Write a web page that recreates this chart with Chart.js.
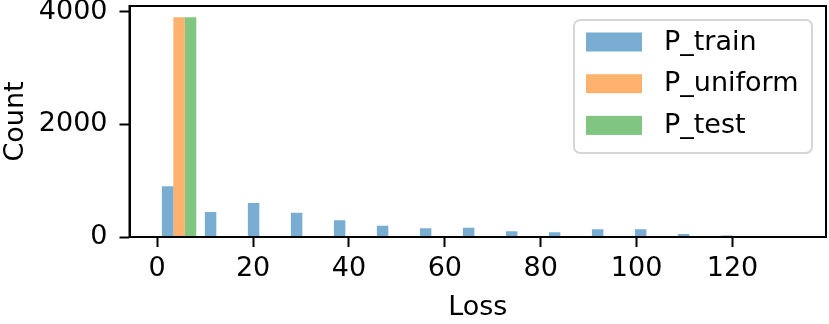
<!DOCTYPE html>
<html>
<head>
<meta charset="utf-8">
<script src="https://cdn.jsdelivr.net/npm/chart.js@4.4.0/dist/chart.umd.min.js"></script>
<style>
  html, body { margin: 0; padding: 0; background: #fff; }
  #wrap { width: 829px; height: 324px; }
</style>
</head>
<body>
<div id="wrap"><canvas id="hist"></canvas></div>
<script>
// histogram bin centers (Loss)
const binCenters = [4.56, 13.53, 22.50, 31.47, 40.44, 49.41, 58.38, 67.35, 76.32, 85.29, 94.26, 103.23, 112.20, 121.17, 130.14];

// counts per bin
const trainCounts = [904, 443, 603, 431, 296, 201, 154, 166, 101, 83, 137, 137, 53, 25, 5];
const uniformCounts = [3905, 0, 0, 0, 0, 0, 0, 0, 0, 0, 0, 0, 0, 0, 0];
const testCounts = [3905, 0, 0, 0, 0, 0, 0, 0, 0, 0, 0, 0, 0, 0, 0];

const seriesNames = ['P_train', 'P_uniform', 'P_test'];
const xTicks = [0, 20, 40, 60, 80, 100, 120];
const yTicks = [0, 2000, 4000];

const FONT = "'DejaVu Sans', sans-serif";

function toPoints(counts) {
  return counts.map((c, i) => ({ x: binCenters[i], y: c }));
}

// draws the full box round the axes and the framed legend, like matplotlib
const frameLegend = {
  id: 'frameLegend',
  afterDraw(chart) {
    const { ctx, chartArea: a } = chart;
    ctx.save();
    ctx.strokeStyle = '#000';
    ctx.lineWidth = 2;
    ctx.strokeRect(a.left, a.top, a.right - a.left, a.bottom - a.top);

    const w = 238, h = 133;
    const x = a.right - 14 - w, y = a.top + 14;
    ctx.beginPath();
    ctx.roundRect(x, y, w, h, 6);
    ctx.fillStyle = 'rgba(255,255,255,0.8)';
    ctx.fill();
    ctx.strokeStyle = '#d6d6d6';
    ctx.lineWidth = 2;
    ctx.stroke();

    ctx.font = '27px ' + FONT;
    ctx.textBaseline = 'middle';
    chart.data.datasets.forEach((ds, i) => {
      const rowY = y + 12.5 + i * 41.7;
      ctx.fillStyle = ds.backgroundColor;
      ctx.fillRect(x + 12, rowY, 56, 19);
      ctx.fillStyle = '#000';
      ctx.fillText(ds.label, x + 90, rowY + 10);
    });
    ctx.restore();
  }
};

new Chart('hist', {
  type: 'bar',
  data: {
    datasets: [{
      label: seriesNames[0],
      data: toPoints(trainCounts),
      backgroundColor: 'rgba(31, 119, 180, 0.6)'
    }, {
      label: seriesNames[1],
      data: toPoints(uniformCounts),
      backgroundColor: 'rgba(255, 127, 14, 0.6)'
    }, {
      label: seriesNames[2],
      data: toPoints(testCounts),
      backgroundColor: 'rgba(44, 160, 44, 0.6)'
    }]
  },
  options: {
    responsive: true,
    maintainAspectRatio: false,
    animation: false,
    layout: { padding: { left: 0, right: 3, top: 6, bottom: 0 } },
    datasets: {
      bar: { categoryPercentage: 0.8, barPercentage: 1.0, borderWidth: 0 }
    },
    plugins: {
      legend: { display: false },
      tooltip: { enabled: false }
    },
    scales: {
      x: {
        type: 'linear',
        offset: false,
        min: -5.78,
        max: 139.5,
        afterBuildTicks: axis => { axis.ticks = xTicks.map(v => ({ value: v })); },
        afterFit: axis => { axis.height = 87; axis.paddingLeft = 0; axis.paddingRight = 0; },
        grid: { display: true, offset: false, drawOnChartArea: false, drawTicks: true, tickLength: 10, tickWidth: 2, tickColor: '#000' },
        border: { display: true, color: '#000', width: 2 },
        ticks: { color: '#000', font: { family: FONT, size: 27 }, padding: 6, maxRotation: 0 },
        title: { display: true, text: 'Loss', color: '#000', font: { family: FONT, size: 27 }, padding: { top: 0, bottom: 0 } }
      },
      y: {
        min: 0,
        max: 4106,
        afterBuildTicks: axis => { axis.ticks = yTicks.map(v => ({ value: v })); },
        afterFit: axis => { axis.width = 129.5; axis.paddingTop = 0; axis.paddingBottom = 0; },
        grid: { display: true, drawOnChartArea: false, drawTicks: true, tickLength: 10, tickWidth: 2, tickColor: '#000' },
        border: { display: true, color: '#000', width: 2 },
        ticks: { color: '#000', font: { family: FONT, size: 27 }, padding: 12, callback: v => String(v) },
        title: { display: true, text: 'Count', color: '#000', font: { family: FONT, size: 27 }, padding: { top: 0, bottom: 2 } }
      }
    }
  },
  plugins: [frameLegend]
});
</script>
</body>
</html>
